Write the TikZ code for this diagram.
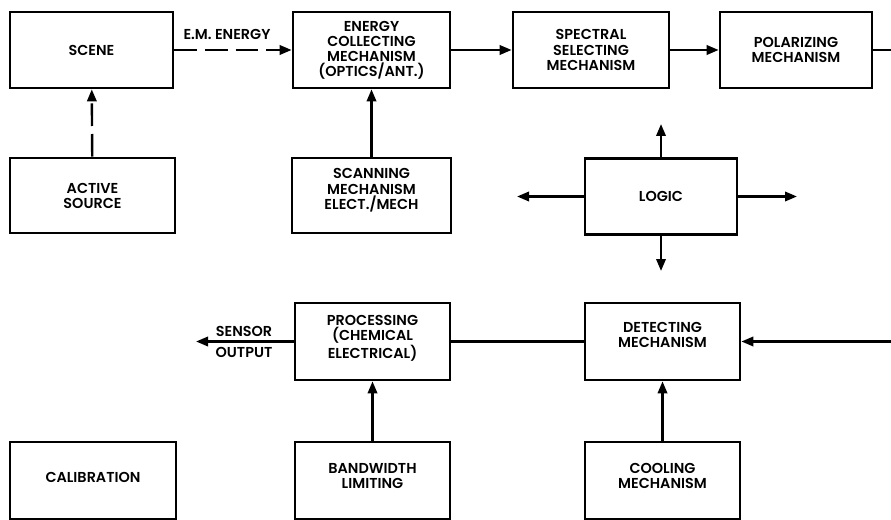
\documentclass[tikz,border=0pt]{standalone}
\usepackage{fontspec}
\setmainfont{Poppins}[BoldFont={Poppins SemiBold}]
\usetikzlibrary{arrows.meta}
\tikzset{
  box/.style 2 args={draw, line width=2pt, minimum width=#1*0.75pt,
    minimum height=#2*0.75pt, inner sep=0pt, align=center,
    font=\fontsize{10.8}{11.3}\selectfont\bfseries},
  flow/.style={line width=1.8pt, -{Triangle[length=9pt,width=7pt]}},
  plain/.style={line width=1.8pt},
  broken/.style={dash pattern=on 17pt off 6pt},
  tag/.style={font=\fontsize{10.8}{11.3}\selectfont\bfseries, inner sep=0pt}
}
\begin{document}
\begin{tikzpicture}[x=0.75pt, y=-0.75pt]
\useasboundingbox (0,0) rectangle (891,520);

% blocks (a trailing \\[..] lifts the lettering above the box centre)
\node[box={163}{76}] (scene) at (91.5,50) {SCENE};
\node[box={165}{75}] (source) at (92.5,195.5) {ACTIVE\\SOURCE};
\node[box={157}{76}] (collect) at (371.5,50) {ENERGY\\COLLECTING\\MECHANISM\\(OPTICS/ANT.)};
\node[box={156}{76}] (spectral) at (591,50) {SPECTRAL\\SELECTING\\MECHANISM};
\node[box={152}{76}] (polar) at (796,50) {POLARIZING\\MECHANISM};
\node[box={159}{75}] (scan) at (371.5,195.5) {SCANNING\\MECHANISM\\ELECT./MECH\\[-1.5pt]};
\node[box={152}{76}] (logic) at (661,196.5) {LOGIC};
\node[box={155}{77}] (proc) at (372.5,341.5) {PROCESSING\\(CHEMICAL\\ELECTRICAL)\\[-4.5pt]};
\node[box={155}{77}] (detect) at (662.5,341.5) {DETECTING\\MECHANISM\\[-1.5pt]};
\node[box={155}{77}] (bw) at (372.5,480.5) {BANDWIDTH\\LIMITING\\[-4.5pt]};
\node[box={155}{77}] (cool) at (662.5,480.5) {COOLING\\MECHANISM\\[-4.5pt]};
\node[box={166}{77}] (calib) at (93,480.5) {CALIBRATION\\[-6pt]};

% free ends
\coordinate (edgeTop) at (891,50);
\coordinate (edgeBot) at (891,341.5);
\coordinate (out) at (196,341.5);
\coordinate (lUp) at (661,124);
\coordinate (lDown) at (661,271);
\coordinate (lLeft) at (517,196.5);
\coordinate (lRight) at (797,196.5);

% connectors
\draw[flow, broken] (scene) -- (collect);
\node[tag] (em) at (227,34) {E.M. ENERGY};
\draw[flow, broken] (source) -- (scene);
\draw[flow] (collect) -- (spectral);
\draw[flow] (spectral) -- (polar);
\draw[plain] (polar) -- (edgeTop);
\draw[flow] (scan) -- (collect);
\draw[flow] (logic.north) -- (lUp);
\draw[flow] (logic.south) -- (lDown);
\draw[flow] (logic.west) -- (lLeft);
\draw[flow] (logic.east) -- (lRight);
\draw[plain] (proc) -- (detect);
\draw[flow] (edgeBot) -- (detect);
\draw[flow] (proc) -- (out);
\node[tag] (sensor) at (244,331) {SENSOR};
\node[tag] (output) at (244,352) {OUTPUT};
\draw[flow] (bw) -- (proc);
\draw[flow] (cool) -- (detect);
\end{tikzpicture}
\end{document}
